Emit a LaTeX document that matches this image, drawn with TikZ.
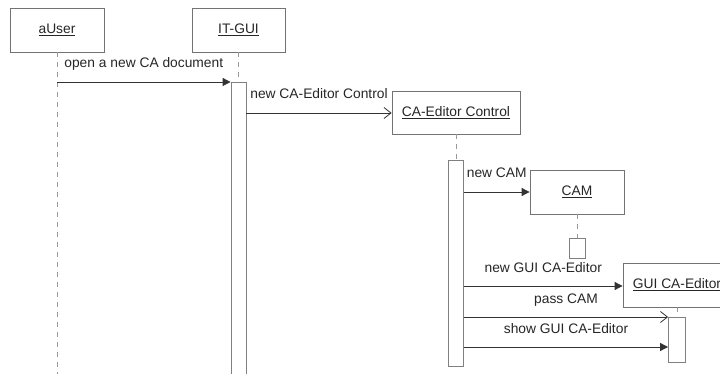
\documentclass[tikz,border=0pt]{standalone}
\usepackage{fontspec}
\setmainfont{Liberation Sans}
\usetikzlibrary{arrows.meta}
\begin{document}
\begin{tikzpicture}[x=1pt, y=-1pt,
        font=\fontsize{13.8}{16}\selectfont, text=black!85,
        obj/.style={draw=black!55, line width=0.8pt, minimum height=44pt, inner sep=0pt},
        life/.style={draw=black!40, dash pattern=on 5pt off 5pt, line width=1pt},
        act/.style={draw=black!50, fill=white, line width=0.8pt, minimum width=15pt, inner sep=0pt},
        sync/.style={draw=black!80, line width=0.8pt, -{Triangle[length=8pt, width=8pt]}},
        async/.style={draw=black!80, line width=0.8pt, -{Straight Barb[length=7pt, width=11pt]}},
        lbl/.style={midway, anchor=base, inner sep=0pt, yshift=14pt}
    ]
        \useasboundingbox (0, 0) rectangle (720, 374);
        \clip (0, 0) rectangle (720, 374);

        \node [obj, minimum width = 94pt] (u) at (57, 30) {\underline{aUser}};
        \node [obj, minimum width = 93pt] (g) at (238.5, 30) {\underline{IT-GUI}};
        \node [obj, minimum width = 128pt, minimum height = 43pt] (c) at (456, 112.5) {\underline{CA-Editor Control}};
        \node [obj, minimum width = 94pt] (k) at (577, 192) {\underline{CAM}};
        \node [obj, minimum width = 108pt] (e) at (677, 285) {\underline{GUI CA-Editor}};

        \node [act, minimum height = 318pt] (ga) at (238.5, 241) {};
        \node [act, minimum height = 206pt] (ca) at (456, 263) {};
        \node [act, minimum width = 16pt, minimum height = 20pt] (ka) at (577, 248) {};
        \node [act, minimum width = 17pt, minimum height = 45pt] (ea) at (677, 339.5) {};

        \draw [life] (u.south) -- ++(0, 322);
        \draw [life] (g.south) -- (ga.north);
        \draw [life] (c.south) -- (ca.north);
        \draw [life] (k.south) -- (ka.north);
        \draw [life] (e.south) -- (ea.north);

        \coordinate (m1) at (57, 82);
        \coordinate (m2) at (ga.east |- 0, 113);
        \coordinate (m3) at (ca.east |- 0, 192);
        \coordinate (m4) at (ca.east |- 0, 286);
        \coordinate (m5) at (ca.east |- 0, 317);
        \coordinate (m6) at (ca.east |- 0, 347);

        \draw [sync] (m1) -- (m1 -| ga.west) node [lbl] {open a new CA document};
        \draw [async] (m2) -- (m2 -| c.west) node [lbl] {new CA-Editor Control};
        \draw [sync] (m3) -- (m3 -| k.west) node [lbl] {new CAM};
        \draw [sync] (m4) -- (m4 -| e.west) node [lbl] {new GUI CA-Editor};
        \draw [async] (m5) -- (m5 -| ea.west) node [lbl] {pass CAM};
        \draw [sync] (m6) -- (m6 -| ea.west) node [lbl] {show GUI CA-Editor};
    \end{tikzpicture}
\end{document}
